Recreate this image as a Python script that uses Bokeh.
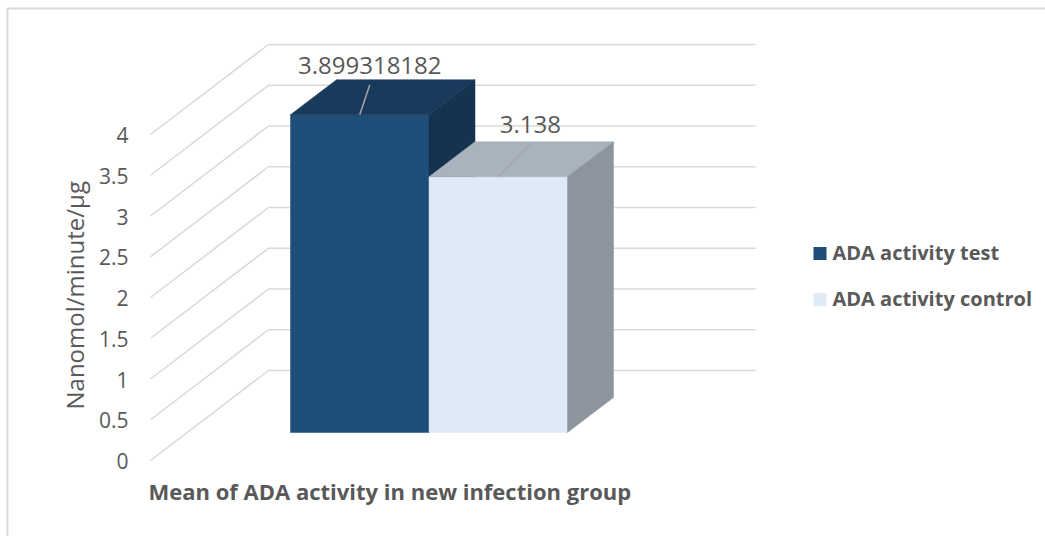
import math
from bokeh.plotting import figure
from bokeh.models import Range1d
from bokeh.core.properties import value
from bokeh.embed import file_html
from bokeh.resources import INLINE

# ---------------- data ----------------
category = "Mean of ADA activity in new infection group"
series = ["ADA activity test", "ADA activity control"]
values = [3.899318182, 3.138]
value_labels = ["3.899318182", "3.138"]
ticks = [0, 0.5, 1, 1.5, 2, 2.5, 3, 3.5, 4]
tick_labels = ["0", "0.5", "1", "1.5", "2", "2.5", "3", "3.5", "4"]
y_title = "Nanomol/minute/\u00b5g"

# ---------------- style / layout ----------------
front_colors = ["#1F4E79", "#DEEBF7"]
top_colors = ["#183A5C", "#A8B3BD"]
side_colors = ["#15334F", "#8C959E"]
TEXT = "#595959"
GRID = "#D9D9D9"
FONT = "Open Sans"

W, H = 1045, 536
Y0 = 460.0        # pixel row of value 0 on the front grid plane
PPU = 81.5        # pixels per unit
GRID_X0 = 150     # front start of grid lines
WALL_DX, WALL_DY = 118, 90   # full depth offset (px)
WALL_X1 = 755     # right end of back-wall lines
BAR_X0 = 290      # left of first bar's front face
BAR_W = 138.5
FRONT_DY = 28                # depth of bar front plane
DEPTH_DX, DEPTH_DY = 46, 35  # bar depth
LEAD_DX = [10, 32]           # leader line offsets (px)
LEAD_DY = [30, 33]
TXT_SHIFT = 7                # baseline correction (px)


def vy(py):
    """pixel row -> data value"""
    return (Y0 - py) / PPU


def du(px):
    """pixel distance -> data units"""
    return px / PPU


p = figure(width=W, height=H, x_range=Range1d(0, W), y_range=Range1d(vy(H), vy(0)),
           output_backend="svg", toolbar_location=None,
           x_axis_location=None, y_axis_location=None, min_border=0)
p.grid.visible = False
p.outline_line_color = None
p.background_fill_color = "white"
p.border_fill_color = "white"

# chart-area border (top and left edges visible)
p.multi_line(xs=[[7, W + 5], [7, 7]], ys=[[vy(8), vy(8)], [vy(8), vy(H + 5)]],
             line_color=GRID, line_width=2)

# ---------------- grid: front diagonals + back wall ----------------
gxs, gys = [], []
for t in ticks:
    gxs.append([GRID_X0, GRID_X0 + WALL_DX, WALL_X1])
    gys.append([t, t + du(WALL_DY), t + du(WALL_DY)])
p.multi_line(xs=gxs, ys=gys, line_color=GRID, line_width=1.5)

# tick labels
p.text(x=[GRID_X0 - 22] * len(ticks), y=[t - du(7.5 - TXT_SHIFT) for t in ticks], text=tick_labels,
       text_align="right", text_baseline="alphabetic", text_font=value(FONT),
       text_font_size="21px", text_color=TEXT)

# axis title
p.text(x=[81 - TXT_SHIFT], y=[vy(409)], text=[y_title], angle=math.pi / 2,
       text_align="left", text_baseline="alphabetic", text_font=value(FONT),
       text_font_size="24px", text_color=TEXT)

# category title
p.text(x=[148], y=[vy(497 - TXT_SHIFT)], text=[category], text_align="left",
       text_baseline="alphabetic", text_font=value(FONT), text_font_size="22px",
       text_font_style="bold", text_color=TEXT)

# ---------------- 3D bars ----------------
base = du(FRONT_DY)
ddx, ddy = DEPTH_DX, du(DEPTH_DY)
for i, val in enumerate(values):
    x0 = BAR_X0 + i * BAR_W
    x1 = x0 + BAR_W
    top = base + val
    # front
    p.quad(left=[x0], right=[x1], bottom=[base], top=[top],
           fill_color=front_colors[i], line_color=front_colors[i], line_width=0.5)
    # top face
    p.patch(x=[x0, x1, x1 + ddx, x0 + ddx], y=[top, top, top + ddy, top + ddy],
            fill_color=top_colors[i], line_color=top_colors[i], line_width=0.5)
    # side face
    p.patch(x=[x1, x1, x1 + ddx, x1 + ddx], y=[base, top, top + ddy, base + ddy],
            fill_color=side_colors[i], line_color=side_colors[i], line_width=0.5)

# ---------------- data labels with leader lines ----------------
cx = [BAR_X0 + i * BAR_W + BAR_W / 2 for i in range(len(values))]
tops = [base + v for v in values]
lead_x1 = [c + d for c, d in zip(cx, LEAD_DX)]
lead_y1 = [t + du(d) for t, d in zip(tops, LEAD_DY)]
p.segment(x0=cx, y0=tops, x1=lead_x1, y1=lead_y1, line_color="#A6A6A6", line_width=1.5)
p.text(x=lead_x1, y=[y + du(12 + TXT_SHIFT) for y in lead_y1], text=value_labels,
       text_align="center", text_baseline="alphabetic", text_font=value(FONT),
       text_font_size="24px", text_color=TEXT)

# ---------------- legend ----------------
LEG_X = 819.5
LEG_Y = [253, 299]
p.scatter(x=[LEG_X] * len(series), y=[vy(y) for y in LEG_Y], marker="square", size=13,
          fill_color=front_colors, line_color=None)
p.text(x=[832] * len(series), y=[vy(y + 6 - TXT_SHIFT) for y in LEG_Y], text=series,
       text_align="left", text_baseline="alphabetic", text_font=value(FONT),
       text_font_size="20px", text_font_style="bold", text_color=TEXT)

open("out.html", "w").write(file_html(p, INLINE))
